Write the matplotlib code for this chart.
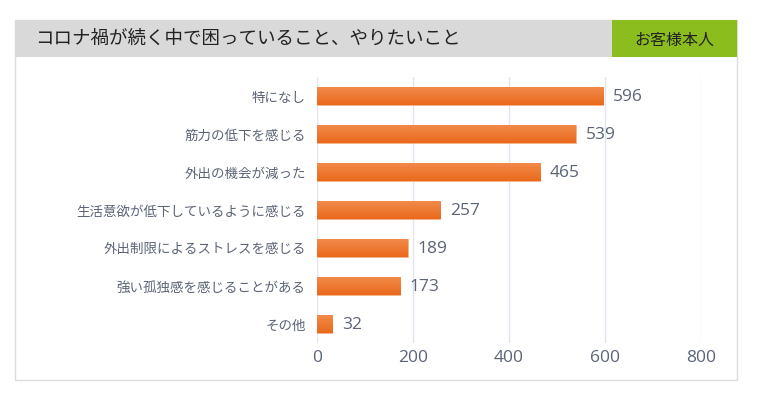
import numpy as np
import matplotlib.pyplot as plt
from matplotlib.patches import Rectangle
from matplotlib.colors import LinearSegmentedColormap

plt.rcParams['font.family'] = ['Noto Sans CJK JP', 'DejaVu Sans']

title = "コロナ禍が続く中で困っていること、やりたいこと"
badge = "お客様本人"
categories = ["特になし", "筋力の低下を感じる", "外出の機会が減った",
              "生活意欲が低下しているように感じる", "外出制限によるストレスを感じる",
              "強い孤独感を感じることがある", "その他"]
values = [596, 539, 465, 257, 189, 173, 32]
ticks = [0, 200, 400, 600, 800]

W, H = 757, 395
fig = plt.figure(figsize=(W / 100, H / 100), dpi=100)

# panel frame + header band (figure pixel coords)
def px_rect(x0, y0, x1, y1, **kw):
    fig.patches.append(Rectangle((x0 / W, 1 - y1 / H), (x1 - x0) / W, (y1 - y0) / H,
                                 transform=fig.transFigure, figure=fig, zorder=-1, **kw))

px_rect(15, 20, 737, 380, facecolor='white', edgecolor='#dcdcdc', linewidth=1)
px_rect(15, 20, 612, 57, facecolor='#d9d9d9', edgecolor='none')
px_rect(612, 20, 737, 57, facecolor='#8bbd1e', edgecolor='none')
fig.text(35 / W, 1 - 39 / H, title, fontsize=13.3, color='#222222', va='center', ha='left')
fig.text(674 / W, 1 - 40 / H, badge, fontsize=11.5, color='#222222', va='center', ha='center')

ax = fig.add_axes([317 / W, 1 - 343 / H, 384 / W, 266 / H])
y = np.arange(len(categories))
bars = ax.barh(y, values, height=0.48, color='#ec7224', edgecolor='#f6b48a', linewidth=0.6, zorder=3)

# vertical gradient on each bar
grad = np.linspace(0, 1, 64).reshape(-1, 1)
cmap = LinearSegmentedColormap.from_list('o', ['#f28c4e', '#e9691b'])
for b in bars:
    x0, y0 = b.get_x(), b.get_y()
    im = ax.imshow(grad, cmap=cmap, aspect='auto', zorder=3.5,
                   extent=(x0, x0 + b.get_width(), y0 + b.get_height(), y0))
    im.set_clip_path(b)

for yi, v in zip(y, values):
    ax.annotate(str(v), (v, yi), xytext=(7, -1), textcoords='offset points',
                va='center', ha='left', fontsize=12.5, color='#5b6477',
                family=['Open Sans', 'DejaVu Sans'])

ax.set_xlim(0, 800)
ax.set_ylim(len(categories) - 0.5, -0.5)
ax.set_xticks(ticks)
ax.set_xticklabels([str(t) for t in ticks], fontsize=12.5, color='#5b6477',
                   family=['Open Sans', 'DejaVu Sans'])
ax.set_yticks(y)
ax.set_yticklabels(categories, fontsize=9.7, color='#5b6477')
ax.tick_params(length=0, pad=8)
ax.tick_params(axis='x', pad=5)
ax.grid(axis='x', color='#e1e6ee', linewidth=1, zorder=0)
for s in ax.spines.values():
    s.set_visible(False)
ax.set_facecolor('none')

fig.savefig('out.png', dpi=100)
